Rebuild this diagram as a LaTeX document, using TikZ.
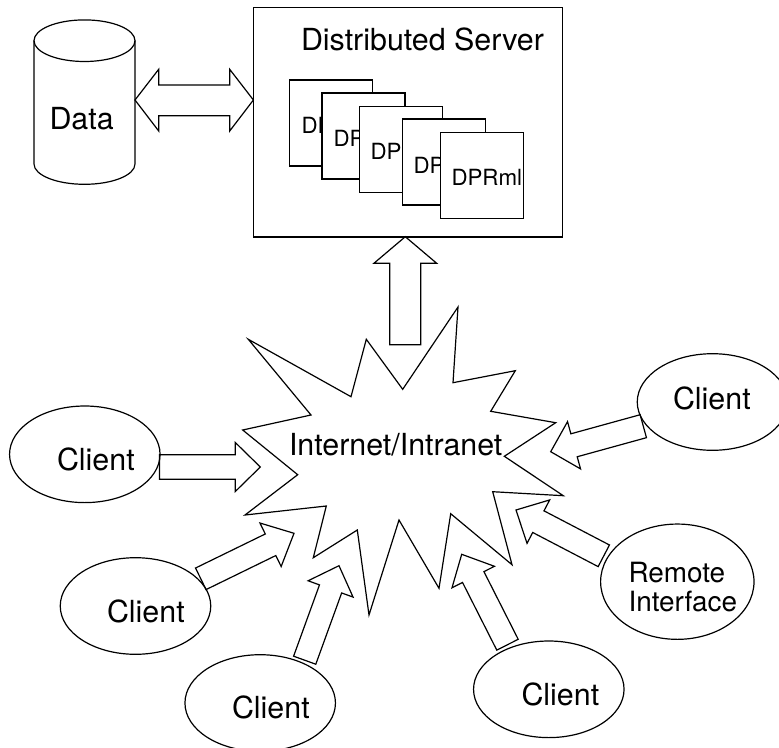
\documentclass[tikz,border=0pt]{standalone}
\usepackage{fontspec}
\setmainfont{TeX Gyre Heros}
\usetikzlibrary{calc,shapes.geometric}
\tikzset{
  line/.style={draw=black,line width=1.2pt,line join=miter},
  label30/.style={anchor=base west,inner sep=0pt,outer sep=0pt,font=\fontsize{30.4}{30.4}\selectfont},
  label27/.style={anchor=base west,inner sep=0pt,outer sep=0pt,font=\fontsize{27.9}{27.9}\selectfont},
  label22/.style={anchor=base west,inner sep=0pt,outer sep=0pt,font=\fontsize{22.3}{22.3}\selectfont},
  oval/.style={line,ellipse,inner sep=0pt,outer sep=0pt,minimum width=150.5pt,minimum height=96.6pt},
  dprbox/.style={line,rectangle,fill=white,inner sep=0pt,outer sep=0pt,minimum width=83pt,minimum height=86pt},
}
\newcommand\blockarrow[5]{%
  \path ($(#2)!#5pt!(#1)$) coordinate (hb);
  \draw[line] ($(#1)!#3pt!90:(#2)$) -- ($(hb)!#3pt!90:(#2)$) -- ($(hb)!#4pt!90:(#2)$) -- (#2)
    -- ($(hb)!#4pt!-90:(#2)$) -- ($(hb)!#3pt!-90:(#2)$) -- ($(#1)!#3pt!-90:(#2)$) -- cycle;}
\begin{document}
\begin{tikzpicture}[x=1pt,y=-1pt]
\useasboundingbox (0,0) rectangle (779,747);
% cylinder
\draw[line] (34,40.7) -- (34,164) arc[start angle=180,end angle=360,x radius=50.5pt,y radius=20.3pt] -- (135,40.7);
\draw[line] (84.5,40.7) ellipse [x radius=50.5pt,y radius=20.8pt];
\node[label30] (datatext) at (49.5,129.5) {Data};
% server
\node[line,rectangle,inner sep=0pt,outer sep=0pt,minimum width=308.9pt,minimum height=229.3pt] (server) at (407.85,122.3) {};
\node[label30] (servertext) at (301,50.7) {Distributed Server};
\node[dprbox] (d1) at (331,123) {};
\node[label22] (t1) at (301.5,133) {DP};
\node[dprbox] (d2) at (363.5,136) {};
\node[label22] (t2) at (333.5,146.7) {DP};
\node[dprbox] (d3) at (401,149.2) {};
\node[label22] (t3) at (370.5,159.3) {DP};
\node[dprbox] (d4) at (443.9,162) {};
\node[label22] (t4) at (413.5,173) {DP};
\node[dprbox] (d5) at (481.7,175.2) {};
\node[label22] (t5) at (451.5,185) {DPRml};
% double arrow
\coordinate (dl) at (135,100);
\draw[line] (dl) -- ++(23.7,-30.7) -- ++(0,15.7) -- ++(71,0) -- ++(0,-15.7) -- (server.west |- dl) -- ++(-23.7,31) -- ++(0,-15.3) -- ++(-71,0) -- ++(0,15.3) -- cycle;
% star
\draw[line] (248.3,339.3) -- (351,396.7) -- (366.3,339.3) -- (402.7,389.3) -- (458,307) -- (453,382.7) -- (515.3,370.7) -- (490.7,411.3) -- (555.7,422.7) -- (504.3,456.3) -- (563.3,495.7) -- (492.7,491.7) -- (512,564.7) -- (450.7,513.7) -- (439,588.3) -- (399,520) -- (369,615) -- (357.3,530) -- (313.3,557.7) -- (326.3,506) -- (245,515) -- (297.7,474.7) -- (242.7,430) -- (311,415) -- cycle;
\node[label30] (nettext) at (289,455.5) {Internet/Intranet};
% ellipses
\node[oval] (c1) at (84.8,454.3) {};
\node[label30] (c1t) at (57,470.5) {Client};
\node[oval] (c2) at (135.5,606) {};
\node[label30] (c2t) at (107,622) {Client};
\node[oval] (c3) at (260.2,703) {};
\node[label30] (c3t) at (232,718) {Client};
\node[oval] (c4) at (712.5,402) {};
\node[label30] (c4t) at (673,409.8) {Client};
\node[oval] (c5) at (548.8,689.3) {};
\node[label30] (c5t) at (521.5,705.8) {Client};
\node[oval,minimum width=153.4pt,minimum height=115.3pt] (rem) at (677.3,581.7) {};
\node[label27] (r1) at (628.5,582) {Remote};
\node[label27] (r2) at (628.5,611) {Interface};
% block arrows
\coordinate (upA) at (405.3,344.7);
\coordinate (upB) at (405.3,236.7);
\blockarrow{upA}{upB}{15.5}{31.4}{26.6}
\coordinate (a1A) at (159.5,467);
\coordinate (a1B) at (260.3,467);
\blockarrow{a1A}{a1B}{12.3}{24.5}{25}
\coordinate (a2A) at (200.8,578.8);
\coordinate (a2B) at (294,533.3);
\blockarrow{a2A}{a2B}{12}{24.2}{26.1}
\coordinate (a3A) at (304.7,660.2);
\coordinate (a3B) at (339,565.7);
\blockarrow{a3A}{a3B}{11.8}{23.9}{24.7}
\coordinate (a4A) at (507.5,644.7);
\coordinate (a4B) at (461.7,554.3);
\blockarrow{a4A}{a4B}{12}{23.8}{25.5}
\coordinate (a5A) at (603.8,555.8);
\coordinate (a5B) at (516,510);
\blockarrow{a5A}{a5B}{12.2}{24.5}{25.2}
\coordinate (a6A) at (643.3,426.2);
\coordinate (a6B) at (550.7,451.7);
\blockarrow{a6A}{a6B}{11.9}{24.5}{24.2}
\end{tikzpicture}
\end{document}
